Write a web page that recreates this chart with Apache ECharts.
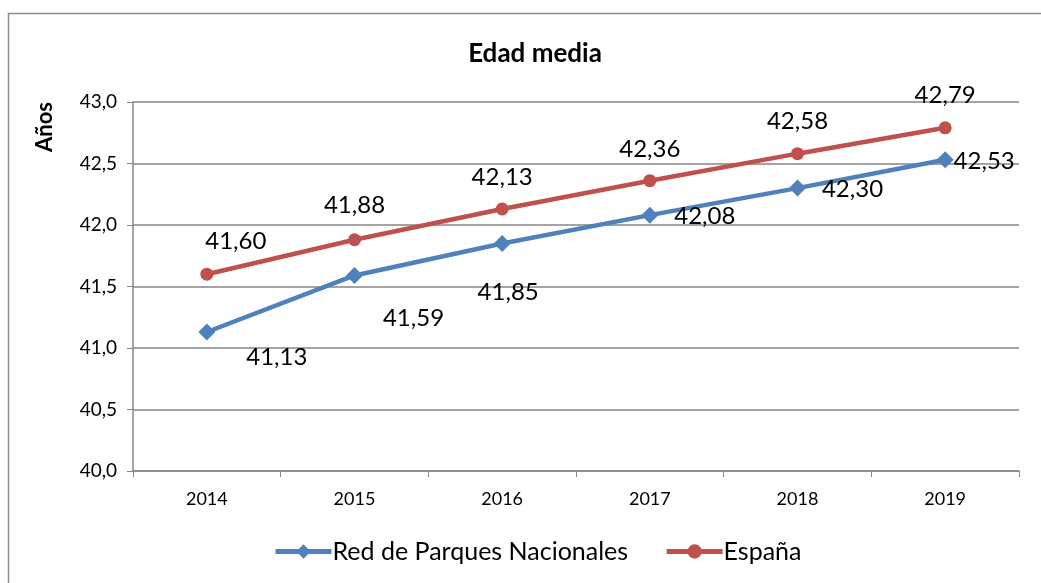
<!DOCTYPE html>
<html>
<head>
<meta charset="utf-8">
<script src="https://cdn.jsdelivr.net/npm/echarts@6/dist/echarts.min.js"></script>
<style>
  html, body { margin: 0; padding: 0; background: #fff; }
  #chart { width: 1041px; height: 583px; }
</style>
</head>
<body>
<div id="chart"></div>
<script>
var years = ['2014', '2015', '2016', '2017', '2018', '2019'];
var redParques = [41.13, 41.59, 41.85, 42.08, 42.30, 42.53];
var espana = [41.60, 41.88, 42.13, 42.36, 42.58, 42.79];

// posicion de las etiquetas (centro respecto al punto)
var offParques = [[70, 25], [59, 43], [6, 49], [55, 1], [55, 1], [39, 1]];
var offEspana = [[29, -33], [0, -34], [0, -32], [0, -31], [0, -32], [0, -33]];

var fmt = function (v) { return v.toFixed(1).replace('.', ','); };
var fmt2 = function (v) { return v.toFixed(2).replace('.', ','); };

function withLabels(vals, offs) {
    return vals.map(function (v, i) {
        return { value: v, label: { offset: offs[i] } };
    });
}

var font = 'Lato, "Open Sans", sans-serif';

var option = {
    animation: false,
    textStyle: { fontFamily: font },
    title: {
        text: 'Edad media',
        left: 530, top: 36, textAlign: 'center',
        textStyle: { fontFamily: font, fontSize: 26, fontWeight: 'bold', color: '#000' }
    },
    graphic: [{
        type: 'rect',
        shape: { x: 8.5, y: 13.5, width: 1040, height: 600 },
        style: { fill: 'none', stroke: '#8c8c8c', lineWidth: 1.5 },
        silent: true
    }, {
        type: 'text',
        x: 45, y: 127,
        rotation: Math.PI / 2,
        style: { text: 'Años', font: 'bold 22px ' + font, fill: '#000', align: 'center', verticalAlign: 'middle' }
    }],
    legend: {
        left: 268, top: 534,
        itemWidth: 56, itemHeight: 18, itemGap: 36,
        lineStyle: { width: 5 },
        textStyle: { fontFamily: font, fontSize: 25, color: '#000', padding: [0, 0, 0, -4] },
        data: ['Red de Parques Nacionales', 'España']
    },
    grid: { left: 133, right: 22, top: 102, bottom: 112 },
    xAxis: {
        type: 'category',
        data: years,
        boundaryGap: true,
        axisLine: { lineStyle: { color: '#868686', width: 1.5 } },
        axisTick: { show: true, length: 6, lineStyle: { color: '#868686' } },
        axisLabel: { color: '#000', fontSize: 18, margin: 19, fontFamily: font }
    },
    yAxis: {
        type: 'value',
        min: 40, max: 43, interval: 0.5,
        axisLine: { show: true, lineStyle: { color: '#868686', width: 1.5 } },
        axisTick: { show: true, length: 6, lineStyle: { color: '#868686' } },
        axisLabel: { color: '#000', fontSize: 19, margin: 16, formatter: fmt, fontFamily: font },
        splitLine: { lineStyle: { color: '#868686', width: 1.5 } }
    },
    series: [{
        name: 'Red de Parques Nacionales',
        type: 'line',
        data: withLabels(redParques, offParques),
        color: '#4F81BD',
        lineStyle: { width: 4.5 },
        symbol: 'diamond', symbolSize: 17,
        itemStyle: { color: '#4F81BD' },
        label: {
            show: true, position: 'inside',
            formatter: function (p) { return fmt2(p.value); },
            color: '#000', fontSize: 24, fontFamily: font
        }
    }, {
        name: 'España',
        type: 'line',
        data: withLabels(espana, offEspana),
        color: '#C0504D',
        lineStyle: { width: 4.5 },
        symbol: 'circle', symbolSize: 13,
        itemStyle: { color: '#C0504D' },
        label: {
            show: true, position: 'inside',
            formatter: function (p) { return fmt2(p.value); },
            color: '#000', fontSize: 24, fontFamily: font
        }
    }]
};

var myChart = echarts.init(document.getElementById('chart'));
myChart.setOption(option);
</script>
</body>
</html>
